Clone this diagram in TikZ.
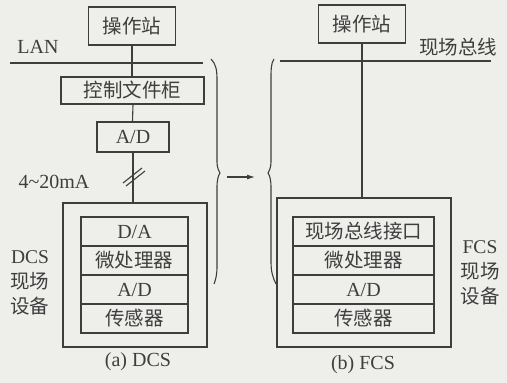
\documentclass[tikz,border=0pt]{standalone}
\usepackage{fontspec}
\setmainfont{Liberation Serif}
\newfontfamily\cjk{Noto Sans CJK SC}
\usetikzlibrary{arrows.meta}
\definecolor{ink}{RGB}{62,62,62}
\definecolor{paper}{RGB}{238,238,235}
\tikzset{
  every node/.style={text=ink, inner sep=0pt, font=\fontsize{20}{22}\selectfont},
  bx/.style={draw=ink, line width=1.1pt},
  ln/.style={draw=ink, line width=1.1pt},
  cn/.style={font=\fontsize{19.5}{22}\selectfont\cjk},
  lbl/.style={align=center, font=\fontsize{19.5}{25}\selectfont},
}
\begin{document}
\begin{tikzpicture}[x=1pt,y=-1pt]
\fill[paper] (0,0) rectangle (507,383);
\useasboundingbox (0,0) rectangle (507,383);

% ---------- left: DCS ----------
\node[bx, cn, minimum width=87pt, minimum height=38pt] (op1) at (132,26) {操作站};
\node (lan) at (38,47) {LAN};
\coordinate (lanL) at (10,63);
\coordinate (lanR) at (203,63);
\draw[ln] (lanL) -- (lanR);
\node[bx, cn, minimum width=143pt, minimum height=27pt] (ctrl) at (132.5,90.5) {控制文件柜};
\node[bx, minimum width=72pt, minimum height=30pt] (ad1) at (133,137) {A/D};
\node[bx, minimum width=144pt, minimum height=144pt] (out1) at (135,275) {};
\node[bx, minimum width=107pt, minimum height=29pt] (a1) at (134.5,231.5) {D/A};
\node[bx, cn, minimum width=107pt, minimum height=29pt] (a2) at (134.5,260.5) {微处理器};
\node[bx, minimum width=107pt, minimum height=29pt] (a3) at (134.5,289.5) {A/D};
\node[bx, cn, minimum width=107pt, minimum height=29pt] (a4) at (134.5,318.5) {传感器};
\draw[ln] (op1.south) -- (op1.south |- ctrl.north);
\draw[ln] (ad1.north) ++(-0.5,0) -- (ad1.north |- ctrl.south);
\draw[ln] (ad1.south) -- (ad1.south |- out1.north);
\draw[ln] (123,183) -- (142,168);
\draw[ln] (126,186) -- (145,171);
\node (ma) at (54,182) {4\textasciitilde20mA};
\node[lbl] (dcsl) at (30,283) {DCS\\{\cjk 现场}\\{\cjk 设备}};
\node (capa) at (138,362) {(a) DCS};

% ---------- braces and arrow ----------
\draw[ln] (211,59) .. controls (216,64) and (217,70) .. (217,80) -- (217,162)
  .. controls (217,168) and (219,171) .. (220,173)
  .. controls (218,176) and (217,180) .. (217,188) -- (217,266)
  .. controls (217,274) and (216,279) .. (214,284);
\draw[ln] (274,59) .. controls (271,63) and (271,70) .. (271,80) -- (271,162)
  .. controls (271,168) and (269,171) .. (268,173)
  .. controls (270,176) and (271,180) .. (271,188) -- (271,262)
  .. controls (271,272) and (273,278) .. (276,284);
\coordinate (arS) at (227,177);
\coordinate (arE) at (255,177);
\draw[ln, -{Latex[length=8pt,width=5pt]}] (arS) -- (arE);

% ---------- right: FCS ----------
\node[bx, cn, minimum width=87pt, minimum height=38pt] (op2) at (362,24) {操作站};
\node[cn] (fb) at (458,47) {现场总线};
\coordinate (fbL) at (280,61);
\coordinate (fbR) at (491,61);
\draw[ln] (fbL) -- (fbR);
\node[bx, minimum width=174pt, minimum height=149pt] (out2) at (364,272.5) {};
\node[bx, cn, minimum width=141pt, minimum height=29pt] (b1) at (363.5,231.5) {现场总线接口};
\node[bx, cn, minimum width=141pt, minimum height=29pt] (b2) at (363.5,260.5) {微处理器};
\node[bx, minimum width=141pt, minimum height=29pt] (b3) at (363.5,289.5) {A/D};
\node[bx, cn, minimum width=141pt, minimum height=29pt] (b4) at (363.5,318.5) {传感器};
\draw[ln] (op2.south) -- (op2.south |- out2.north);
\node[lbl] (fcsl) at (480,273) {FCS\\{\cjk 现场}\\{\cjk 设备}};
\node (capb) at (363,365) {(b) FCS};
\end{tikzpicture}
\end{document}
